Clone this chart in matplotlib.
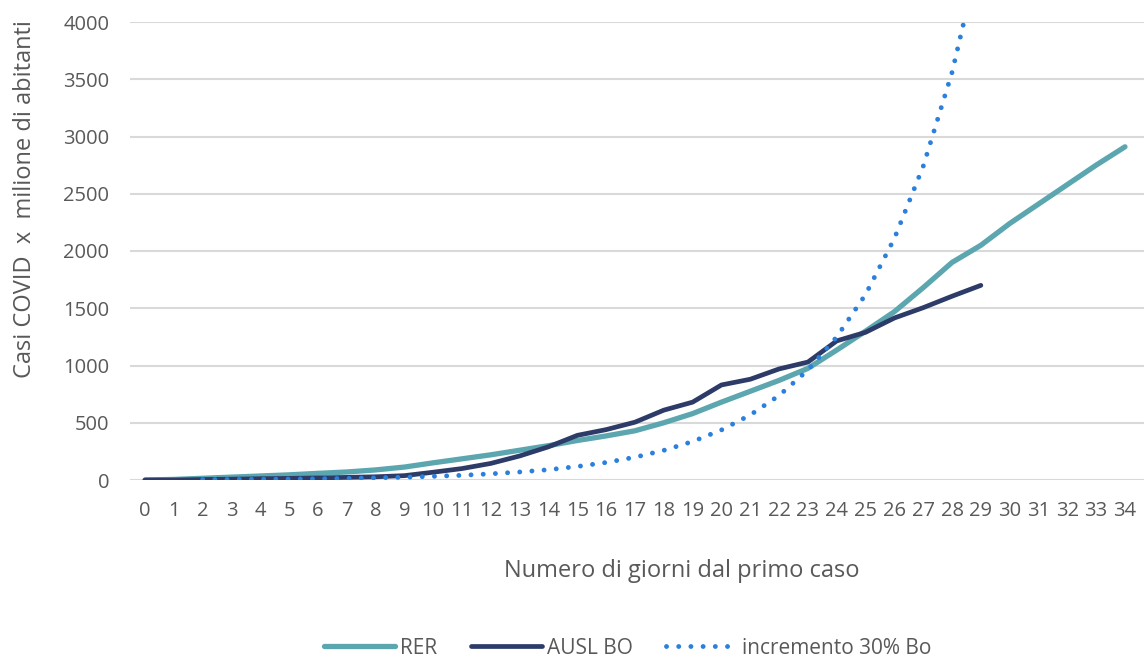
import matplotlib
matplotlib.use("Agg")
import matplotlib.pyplot as plt

plt.rcParams['font.family'] = ['Open Sans', 'DejaVu Sans']

# giorni dal primo caso
giorni = list(range(0, 35))
giorni_bo = list(range(0, 30))
giorni_inc = list(range(2, 30))

# casi x milione di abitanti
rer = [0, 5, 15, 25, 35, 45, 58, 70, 88, 113, 150, 185, 220, 260, 300,
       345, 385, 430, 500, 580, 680, 775, 870, 975, 1135, 1300, 1470, 1680,
       1900, 2050, 2240, 2410, 2580, 2750, 2910]
ausl_bo = [0, 0, 4, 7, 11, 14, 18, 23, 28, 38, 68, 100, 145, 210, 290,
           390, 440, 505, 610, 680, 830, 880, 970, 1030, 1215, 1290, 1415,
           1505, 1605, 1700]
incremento = [4, 5, 6.5, 8.5, 11, 14, 19, 24, 32, 41, 54, 70, 90, 118, 153,
              199, 259, 336, 437, 568, 738, 960, 1250, 1620, 2110, 2740,
              3560, 4630]

fig = plt.figure(figsize=(11.44, 6.6), dpi=100)
ax = fig.add_axes([130 / 1144, 1 - 480 / 660, 1 - 130 / 1144, 458 / 660])

ax.plot(giorni, rer, color='#5BA6AF', lw=3.8, label='RER', solid_capstyle='round')
ax.plot(giorni_bo, ausl_bo, color='#2C3B68', lw=3.4, label='AUSL BO', solid_capstyle='round')
ax.plot(giorni_inc, incremento, color='#2A80DC', lw=3.5, linestyle=(0, (0.01, 2.5)),
        dash_capstyle='round', label='incremento 30% Bo')

ax.set_xlim(-0.52, 34.66)
ax.set_ylim(0, 4000)
ax.set_xticks(giorni)
ax.set_yticks(range(0, 4001, 500))
ax.grid(axis='y', color='#D9D9D9', lw=1.5)
ax.set_axisbelow(True)
for s in ax.spines.values():
    s.set_visible(False)
ax.tick_params(length=0, labelsize=14.5, colors='#595959')
ax.tick_params(axis='x', pad=15)
ax.tick_params(axis='y', pad=15)

ax.set_xlabel('Numero di giorni dal primo caso', fontsize=17, color='#595959', va='center')
ax.xaxis.set_label_coords(0.544, -0.199)
ax.set_ylabel('Casi COVID  x  milione di abitanti', fontsize=17, color='#595959', va='center')
ax.yaxis.set_label_coords(-0.1036, 0.6135)

leg = ax.legend(loc='center', bbox_to_anchor=(0.491, -0.367), ncol=3, frameon=False,
                fontsize=15, handlelength=3.4, columnspacing=1.6, handletextpad=0.25)
for t in leg.get_texts():
    t.set_color('#595959')

fig.savefig('out.png', dpi=100)
